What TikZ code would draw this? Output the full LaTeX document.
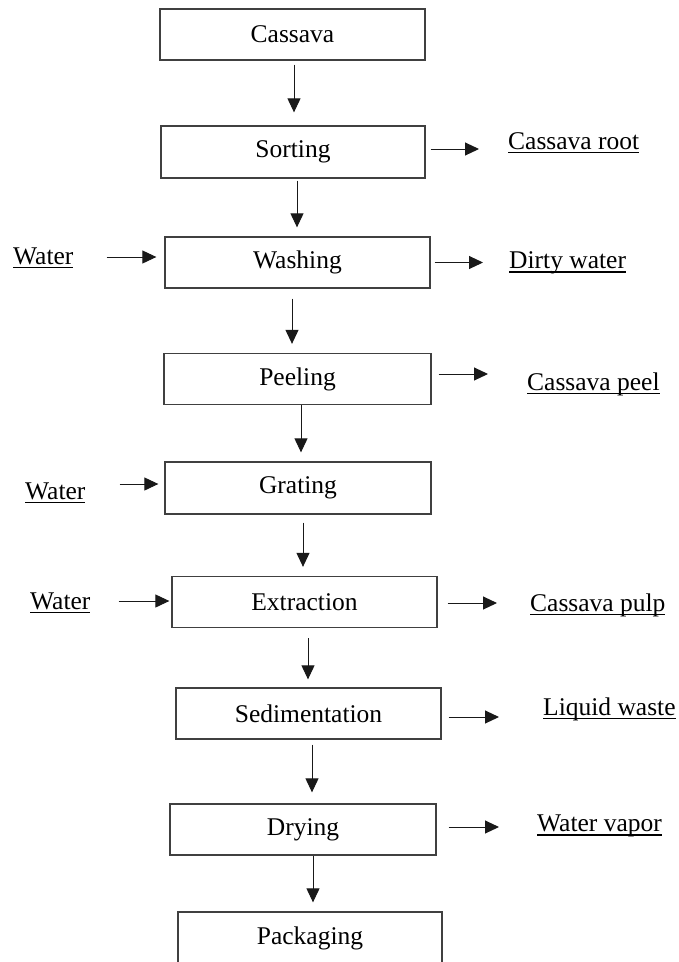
\documentclass[tikz,border=0pt]{standalone}
\usepackage{fontspec}
\setmainfont{Liberation Serif}
\usetikzlibrary{arrows.meta}
\newcommand\ulx[1]{\setbox0=\hbox{#1}\rlap{\vrule height -2.6pt depth 3.9pt width \wd0}\box0}
\begin{document}
\begin{tikzpicture}[x=1pt,y=-1pt,
  font=\fontsize{25.5}{30}\selectfont,
  box/.style={draw=black!75, line width=1.3pt, minimum height=51pt, inner sep=0pt, anchor=center},
  arr/.style={draw=black!90, line width=1pt, -{Triangle[length=14pt,width=13pt]}},
  lab/.style={anchor=west, inner sep=0pt}]
\clip (0,0) rectangle (678,962);
\fill[white] (0,0) rectangle (678,962);
% process boxes
\node[box, minimum width=265pt] (cassava) at (292.5,34.5) {Cassava};
\node[box, minimum width=264pt, minimum height=52pt] (sorting) at (293,152) {Sorting};
\node[box, minimum width=265pt] (washing) at (297.5,262.5) {Washing};
\node[box, minimum width=267pt] (peeling) at (297.5,379) {Peeling};
\node[box, minimum width=266pt, minimum height=52pt] (grating) at (298,488) {Grating};
\node[box, minimum width=265pt] (extraction) at (304.5,602) {Extraction};
\node[box, minimum width=265pt] (sedimentation) at (308.5,713.5) {Sedimentation};
\node[box, minimum width=266pt] (drying) at (303,829.5) {Drying};
\node[box, minimum width=264pt, minimum height=52pt] (packaging) at (310,938) {Packaging};
% side labels
\node[lab] (root) at (508,143) {\ulx{Cassava root}};
\node[lab] (dirty) at (509,263) {\ulx{Dirty water}};
\node[lab] (peel) at (527,384) {\ulx{Cassava peel}};
\node[lab] (pulp) at (530,605) {\ulx{Cassava pulp}};
\node[lab] (liquid) at (543,709) {\ulx{Liquid waste}};
\node[lab] (vapor) at (537,826) {\ulx{Water vapor}};
\node[lab] (w1) at (13,258) {\ulx{Water}};
\node[lab] (w2) at (25,493) {\ulx{Water}};
\node[lab] (w3) at (30,603) {\ulx{Water}};
% main flow
\draw[arr, shorten <=4pt, shorten >=13pt] ([xshift=1.5pt]cassava.south) -- ([xshift=1.5pt]cassava.south |- sorting.north);
\draw[arr, shorten <=2pt, shorten >=9pt] ([xshift=4pt]sorting.south) -- ([xshift=4pt]sorting.south |- washing.north);
\draw[arr, shorten <=10pt, shorten >=9pt] ([xshift=-5.5pt]washing.south) -- ([xshift=-5.5pt]washing.south |- peeling.north);
\draw[arr, shorten >=9pt] ([xshift=3.5pt]peeling.south) -- ([xshift=3.5pt]peeling.south |- grating.north);
\draw[arr, shorten <=8pt, shorten >=9pt] ([xshift=5pt]grating.south) -- ([xshift=5pt]grating.south |- extraction.north);
\draw[arr, shorten <=10pt, shorten >=8pt] ([xshift=3.5pt]extraction.south) -- ([xshift=3.5pt]extraction.south |- sedimentation.north);
\draw[arr, shorten <=5pt, shorten >=11pt] ([xshift=3.5pt]sedimentation.south) -- ([xshift=3.5pt]sedimentation.south |- drying.north);
\draw[arr, shorten >=9pt] ([xshift=10pt]drying.south) -- ([xshift=10pt]drying.south |- packaging.north);
% outputs
\draw[arr, shorten <=5pt, shorten >=29pt] ([yshift=3pt]sorting.east) -- ([yshift=3pt]sorting.east -| root.west);
\draw[arr, shorten <=4pt, shorten >=26pt] (washing.east) -- (washing.east -| dirty.west);
\draw[arr, shorten <=7pt, shorten >=39pt] ([yshift=5pt]peeling.east) -- ([yshift=5pt]peeling.east -| peel.west);
\draw[arr, shorten <=10pt, shorten >=33pt] ([yshift=-1pt]extraction.east) -- ([yshift=-1pt]extraction.east -| pulp.west);
\draw[arr, shorten <=7pt, shorten >=44pt] ([yshift=-3.5pt]sedimentation.east) -- ([yshift=-3.5pt]sedimentation.east -| liquid.west);
\draw[arr, shorten <=12pt, shorten >=38pt] ([yshift=2.5pt]drying.east) -- ([yshift=2.5pt]drying.east -| vapor.west);
% inputs
\draw[arr, shorten <=33pt, shorten >=8pt] ([yshift=5.5pt]washing.west -| w1.east) -- ([yshift=5.5pt]washing.west);
\draw[arr, shorten <=34pt, shorten >=6pt] ([yshift=4pt]grating.west -| w2.east) -- ([yshift=4pt]grating.west);
\draw[arr, shorten <=28pt, shorten >=2pt] ([yshift=1pt]extraction.west -| w3.east) -- ([yshift=1pt]extraction.west);
\end{tikzpicture}
\end{document}
